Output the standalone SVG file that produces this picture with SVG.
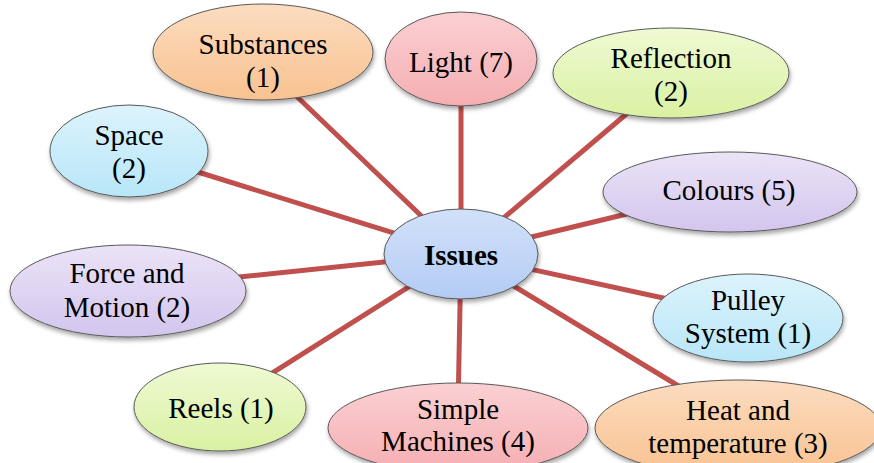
<svg xmlns="http://www.w3.org/2000/svg" width="874" height="463" viewBox="0 0 874 463">
<defs>
<style>
.n{stroke:#5a5a5a;stroke-width:1;filter:url(#sh)}
text{font-family:'Liberation Serif','Times New Roman',serif;font-size:29px;fill:#000;text-anchor:middle}
.b{font-weight:bold}
.c line{stroke:#c0504d;stroke-width:5}
</style>
<filter id="sh" x="-10%" y="-10%" width="120%" height="130%">
<feDropShadow dx="1" dy="3" stdDeviation="2" flood-color="#000" flood-opacity="0.35"/>
</filter>
<linearGradient id="gBlue" x1="0" y1="0" x2="0" y2="1"><stop offset="0" stop-color="#d2e1f9"/><stop offset="1" stop-color="#b3cbf4"/></linearGradient>
<linearGradient id="gOrange" x1="0" y1="0" x2="0" y2="1"><stop offset="0" stop-color="#fcdcc0"/><stop offset="1" stop-color="#f9c290"/></linearGradient>
<linearGradient id="gPink" x1="0" y1="0" x2="0" y2="1"><stop offset="0" stop-color="#fad0d3"/><stop offset="1" stop-color="#f5aeb2"/></linearGradient>
<linearGradient id="gGreen" x1="0" y1="0" x2="0" y2="1"><stop offset="0" stop-color="#effad3"/><stop offset="1" stop-color="#d9f1a2"/></linearGradient>
<linearGradient id="gCyan" x1="0" y1="0" x2="0" y2="1"><stop offset="0" stop-color="#dcf3fc"/><stop offset="1" stop-color="#b8e6f8"/></linearGradient>
<linearGradient id="gPurple" x1="0" y1="0" x2="0" y2="1"><stop offset="0" stop-color="#ebe3f7"/><stop offset="1" stop-color="#d3c5ed"/></linearGradient>
</defs>
<rect width="874" height="463" fill="#fff"/>
<g id="connectors" class="c">
<line x1="461" y1="254" x2="290" y2="90"/>
<line x1="461" y1="254" x2="461" y2="60"/>
<line x1="461" y1="254" x2="630" y2="111"/>
<line x1="461" y1="254" x2="185" y2="168"/>
<line x1="461" y1="254" x2="660" y2="206"/>
<line x1="461" y1="254" x2="200" y2="281"/>
<line x1="461" y1="254" x2="700" y2="306"/>
<line x1="461" y1="254" x2="250" y2="387"/>
<line x1="461" y1="254" x2="458" y2="410"/>
<line x1="461" y1="254" x2="700" y2="399"/>
</g>
<g id="substances"><ellipse class="n" cx="263" cy="52" rx="110" ry="48" fill="url(#gOrange)"/><text x="263" y="54">Substances</text><text x="263" y="87">(1)</text></g>
<g id="light"><ellipse class="n" cx="461" cy="59" rx="76" ry="47" fill="url(#gPink)"/><text x="461" y="72">Light (7)</text></g>
<g id="reflection"><ellipse class="n" cx="671" cy="73" rx="118" ry="45" fill="url(#gGreen)"/><text x="671" y="68">Reflection</text><text x="671" y="101">(2)</text></g>
<g id="space"><ellipse class="n" cx="129" cy="151" rx="79" ry="46" fill="url(#gCyan)"/><text x="129" y="145">Space</text><text x="129" y="178">(2)</text></g>
<g id="colours"><ellipse class="n" cx="730" cy="192" rx="127" ry="40" fill="url(#gPurple)"/><text x="729" y="200">Colours (5)</text></g>
<g id="force"><ellipse class="n" cx="128" cy="291" rx="118" ry="46" fill="url(#gPurple)"/><text x="127" y="283">Force and</text><text x="127" y="317">Motion (2)</text></g>
<g id="pulley"><ellipse class="n" cx="748" cy="318" rx="95" ry="44" fill="url(#gCyan)"/><text x="748" y="310">Pulley</text><text x="748" y="343">System (1)</text></g>
<g id="reels"><ellipse class="n" cx="220" cy="407" rx="86" ry="44" fill="url(#gGreen)"/><text x="221" y="418">Reels (1)</text></g>
<g id="simple"><ellipse class="n" cx="458" cy="428" rx="130" ry="45" fill="url(#gPink)"/><text x="458" y="419">Simple</text><text x="458" y="451">Machines (4)</text></g>
<g id="heat"><ellipse class="n" cx="738" cy="428" rx="143" ry="48" fill="url(#gOrange)"/><text x="738" y="420">Heat and</text><text x="738" y="453">temperature (3)</text></g>
<g id="issues"><ellipse class="n" cx="461" cy="254" rx="77" ry="45" fill="url(#gBlue)"/><text class="b" x="461" y="265">Issues</text></g>
</svg>
